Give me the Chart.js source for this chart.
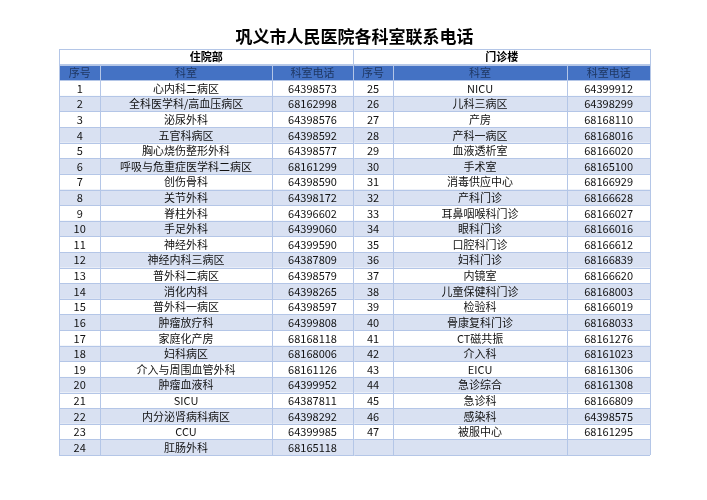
<!DOCTYPE html>
<html>
<head>
<meta charset="utf-8">
<script src="https://cdn.jsdelivr.net/npm/chart.js@4"></script>
<style>body{margin:0;background:#fff}</style>
</head>
<body>
<canvas id="table" width="707" height="500"></canvas>
<script>
// table data
const title = "巩义市人民医院各科室联系电话";
const sections = ["住院部", "门诊楼"];
const headers = ["序号", "科室", "科室电话"];
const leftNo = [1,2,3,4,5,6,7,8,9,10,11,12,13,14,15,16,17,18,19,20,21,22,23,24];
const leftDept = ["心内科二病区","全科医学科/高血压病区","泌尿外科","五官科病区","胸心烧伤整形外科","呼吸与危重症医学科二病区","创伤骨科","关节外科","脊柱外科","手足外科","神经外科","神经内科三病区","普外科二病区","消化内科","普外科一病区","肿瘤放疗科","家庭化产房","妇科病区","介入与周围血管外科","肿瘤血液科","SICU","内分泌肾病科病区","CCU","肛肠外科"];
const leftTel = ["64398573","68162998","64398576","64398592","64398577","68161299","64398590","64398172","64396602","64399060","64399590","64387809","64398579","64398265","64398597","64399808","68168118","68168006","68161126","64399952","64387811","64398292","64399985","68165118"];
const rightNo = [25,26,27,28,29,30,31,32,33,34,35,36,37,38,39,40,41,42,43,44,45,46,47];
const rightDept = ["NICU","儿科三病区","产房","产科一病区","血液透析室","手术室","消毒供应中心","产科门诊","耳鼻咽喉科门诊","眼科门诊","口腔科门诊","妇科门诊","内镜室","儿童保健科门诊","检验科","骨康复科门诊","CT磁共振","介入科","EICU","急诊综合","急诊科","感染科","被服中心"];
const rightTel = ["64399912","64398299","68168110","68168016","68166020","68165100","68166929","68166628","68166027","68166016","68166612","68166839","68166620","68168003","68166019","68168033","68161276","68161023","68161306","68161308","68166809","64398575","68161295"];

// column edges in x-scale units (0..100 across the table)
const colEdges = [0, 7, 36, 49.8, 56.5, 86, 100];
const nRows = leftNo.length;
const FONT = '"Noto Sans CJK SC", "Noto Sans", sans-serif';

const tablePlugin = {
  id: 'tablePlugin',
  beforeDatasetsDraw(chart) {
    const ctx = chart.ctx, xs = chart.scales.x, ys = chart.scales.y;
    const X = v => xs.getPixelForValue(v), Y = v => ys.getPixelForValue(v);
    const x0 = X(0), x1 = X(100);
    ctx.save();
    // title
    ctx.fillStyle = '#000';
    ctx.font = 'bold 17px ' + FONT;
    ctx.textAlign = 'center'; ctx.textBaseline = 'middle';
    ctx.fillText(title, (x0 + x1) / 2, Y(-2) - 12);
    // blue header band
    ctx.fillStyle = '#4472c4';
    ctx.fillRect(x0, Y(-1), x1 - x0, Y(0) - Y(-1));
    // stripes
    for (let r = 0; r < nRows; r++) {
      if (r % 2 === 1) {
        ctx.fillStyle = '#d9e1f2';
        ctx.fillRect(x0, Y(r), x1 - x0, Y(r + 1) - Y(r));
      }
    }
    // grid lines
    ctx.strokeStyle = '#b4c6e7'; ctx.lineWidth = 1;
    ctx.beginPath();
    for (let r = -2; r <= nRows; r++) {
      const y = Math.round(Y(r)) + 0.5;
      ctx.moveTo(x0, y); ctx.lineTo(x1, y);
    }
    colEdges.forEach((c, i) => {
      const x = Math.round(X(c)) + 0.5;
      const top = (i === 0 || i === 3 || i === 6) ? Y(-2) : Y(-1);
      ctx.moveTo(x, top); ctx.lineTo(x, Y(nRows));
    });
    ctx.stroke();
    // section headers
    ctx.fillStyle = '#000';
    ctx.font = 'bold 11px ' + FONT;
    ctx.fillText(sections[0], (X(colEdges[0]) + X(colEdges[3])) / 2, Y(-1.5));
    ctx.fillText(sections[1], (X(colEdges[3]) + X(colEdges[6])) / 2, Y(-1.5));
    // column headers
    ctx.font = '11px ' + FONT;
    ctx.fillStyle = '#1f3864';
    for (let s = 0; s < 2; s++) {
      headers.forEach((h, i) => {
        const c = s * 3 + i;
        ctx.fillText(h, (X(colEdges[c]) + X(colEdges[c + 1])) / 2, Y(-0.5));
      });
    }
    // body
    ctx.fillStyle = '#111';
    const cols = [[leftNo, leftDept, leftTel], [rightNo, rightDept, rightTel]];
    cols.forEach((set, s) => {
      set.forEach((arr, i) => {
        const c = s * 3 + i;
        const cx = (X(colEdges[c]) + X(colEdges[c + 1])) / 2;
        arr.forEach((v, r) => ctx.fillText(String(v), cx, Y(r + 0.5) + 0.5));
      });
    });
    ctx.restore();
  }
};

new Chart(document.getElementById('table'), {
  type: 'scatter',
  data: { datasets: [{ data: [] }] },
  options: {
    responsive: false,
    animation: false,
    layout: { padding: { left: 59, right: 57, top: 49, bottom: 45 } },
    plugins: { legend: { display: false }, tooltip: { enabled: false } },
    scales: {
      x: { type: 'linear', min: 0, max: 100, display: false },
      y: { type: 'linear', min: -2, max: nRows, reverse: true, display: false }
    }
  },
  plugins: [tablePlugin]
});
</script>
</body>
</html>
